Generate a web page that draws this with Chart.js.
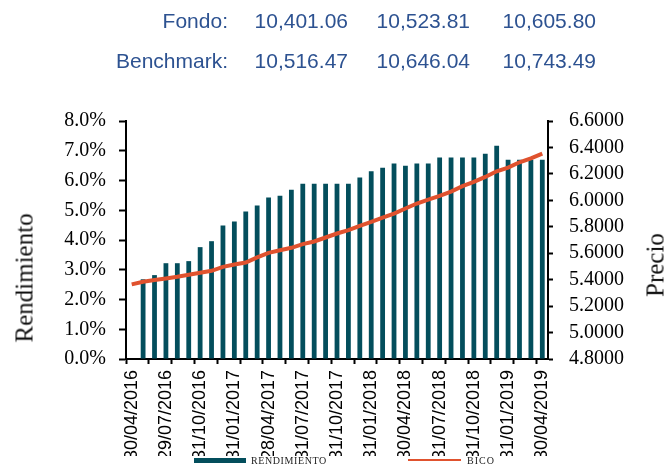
<!DOCTYPE html>
<html lang="es">
<head>
    <meta charset="UTF-8">
    <title>Rendimiento vs Precio</title>
    <script src="https://cdn.jsdelivr.net/npm/chart.js"></script>
    <style>
        body {
            margin: 0;
            padding: 0;
            background: #fff;
        }
        .wrap {
            position: relative;
            width: 665px;
            height: 470px;
            overflow: hidden;
        }
        /* the date labels are cut off at the bottom, as in the original export */
        .clip {
            position: absolute;
            left: 0;
            top: 0;
            width: 665px;
            height: 456px;
            overflow: hidden;
        }
        .head {
            position: absolute;
            font-family: 'Liberation Sans', Arial, sans-serif;
            font-size: 21px;
            line-height: 21px;
            color: #2d5291;
            text-align: right;
            white-space: nowrap;
        }
        .axis-title {
            position: absolute;
            font-family: 'Liberation Serif', 'Times New Roman', serif;
            font-size: 25px;
            line-height: 25px;
            color: #111;
            white-space: nowrap;
            transform: translate(-50%, -50%) rotate(-90deg);
        }
        .legend-box {
            position: absolute;
        }
        .legend-text {
            position: absolute;
            font-family: 'Liberation Serif', 'Times New Roman', serif;
            font-size: 10px;
            line-height: 10px;
            color: #222;
            white-space: nowrap;
        }
    </style>
</head>
<body>
<div class="wrap" id="wrap">
    <div class="clip"><canvas id="chart" width="665" height="470"></canvas></div>
    <div class="axis-title" style="left:24px; top:278px;">Rendimiento</div>
    <div class="axis-title" style="left:655px; top:265px;">Precio</div>

    <div class="legend-box" style="left:194px; top:458px; width:52px; height:5px; background:#034e5c;"></div>
    <div class="legend-text" style="left:251px; top:456px; letter-spacing:0.6px;">RENDIMIENTO</div>
    <div class="legend-box" style="left:408px; top:459px; width:53px; height:2px; background:#e0522e;"></div>
    <div class="legend-text" style="left:467px; top:456px; letter-spacing:1px;">BICO</div>
</div>

<script>
    // header figures
    const headRows = ['Fondo:', 'Benchmark:'];
    const fondoVals = ['10,401.06', '10,523.81', '10,605.80'];
    const benchVals = ['10,516.47', '10,646.04', '10,743.49'];

    // monthly closing dates
    const fechas = [
        '30/04/2016', '31/05/2016', '30/06/2016', '29/07/2016', '31/08/2016', '30/09/2016',
        '31/10/2016', '30/11/2016', '30/12/2016', '31/01/2017', '28/02/2017', '31/03/2017',
        '28/04/2017', '31/05/2017', '30/06/2017', '31/07/2017', '31/08/2017', '29/09/2017',
        '31/10/2017', '30/11/2017', '29/12/2017', '31/01/2018', '28/02/2018', '29/03/2018',
        '30/04/2018', '31/05/2018', '29/06/2018', '31/07/2018', '31/08/2018', '28/09/2018',
        '31/10/2018', '30/11/2018', '31/12/2018', '31/01/2019', '28/02/2019', '29/03/2019',
        '30/04/2019'
    ];

    // rendimiento (%) - bars, left axis
    const rendimiento = [
        null, 2.68, 2.82, 3.22, 3.22, 3.29, 3.76, 3.96, 4.49, 4.62,
        4.96, 5.16, 5.43, 5.49, 5.69, 5.89, 5.89, 5.89, 5.89, 5.89,
        6.10, 6.31, 6.43, 6.57, 6.50, 6.57, 6.57, 6.77, 6.77, 6.77,
        6.77, 6.90, 7.17, 6.70, 6.70, 6.70, 6.70
    ];

    // precio - line, right axis
    const precio = [
        5.364, 5.384, 5.397, 5.409, 5.422, 5.437, 5.452, 5.467, 5.497, 5.515,
        5.530, 5.568, 5.603, 5.623, 5.641, 5.669, 5.689, 5.719, 5.749, 5.774,
        5.807, 5.837, 5.870, 5.900, 5.938, 5.976, 6.006, 6.033, 6.066, 6.107,
        6.139, 6.177, 6.220, 6.248, 6.288, 6.318, 6.353
    ];

    // header table as positioned text
    const wrap = document.getElementById('wrap');
    const colRight = [228, 348, 470, 596];
    const rowTop = [10, 50];
    [[headRows[0], ...fondoVals], [headRows[1], ...benchVals]].forEach((row, r) => {
        row.forEach((txt, c) => {
            const d = document.createElement('div');
            d.className = 'head';
            d.textContent = txt;
            d.style.right = (665 - colRight[c]) + 'px';
            d.style.top = rowTop[r] + 'px';
            wrap.appendChild(d);
        });
    });

    Chart.defaults.font.family = "'Liberation Serif', 'Times New Roman', serif";
    Chart.defaults.color = '#000';

    new Chart(document.getElementById('chart'), {
        type: 'bar',
        data: {
            labels: fechas,
            datasets: [
                {
                    type: 'line',
                    label: 'BICO',
                    data: precio,
                    yAxisID: 'y1',
                    borderColor: '#e0522e',
                    backgroundColor: '#e0522e',
                    borderWidth: 4,
                    pointRadius: 0,
                    tension: 0,
                    order: 0
                },
                {
                    label: 'RENDIMIENTO',
                    data: rendimiento,
                    yAxisID: 'y',
                    backgroundColor: '#034e5c',
                    barPercentage: 0.42,
                    categoryPercentage: 1.0,
                    order: 1
                }
            ]
        },
        options: {
            responsive: false,
            animation: false,
            devicePixelRatio: 1,
            layout: { padding: { top: 121, bottom: 11, left: 0, right: 0 } },
            plugins: {
                legend: { display: false },
                tooltip: { enabled: false }
            },
            scales: {
                x: {
                    offset: true,
                    grid: {
                        offset: true,
                        drawOnChartArea: false,
                        tickLength: 5,
                        tickWidth: 2,
                        tickColor: ctx => (ctx.index % 2 === 0 ? '#000' : 'rgba(0,0,0,0)')
                    },
                    border: { color: '#000', width: 2 },
                    ticks: {
                        autoSkip: false,
                        minRotation: 90,
                        maxRotation: 90,
                        padding: 6,
                        font: { family: "'Liberation Sans', Arial, sans-serif", size: 18 },
                        callback: function (v, i) {
                            return i % 3 === 0 ? this.getLabelForValue(v) : '';
                        }
                    },
                    afterFit: s => { s.height = 100; }
                },
                y: {
                    position: 'left',
                    min: 0,
                    max: 8,
                    grid: {
                        drawOnChartArea: false,
                        tickLength: 7,
                        tickWidth: 2,
                        tickColor: '#000'
                    },
                    border: { color: '#000', width: 2 },
                    ticks: {
                        autoSkip: false,
                        stepSize: 1,
                        padding: 13,
                        font: { size: 20 },
                        callback: v => v.toFixed(1) + '%'
                    },
                    afterFit: s => { s.width = 126; }
                },
                y1: {
                    position: 'right',
                    min: 4.8,
                    max: 6.6,
                    grid: {
                        drawOnChartArea: false,
                        tickLength: 5,
                        tickWidth: 2,
                        tickColor: '#000'
                    },
                    border: { color: '#000', width: 2 },
                    ticks: {
                        autoSkip: false,
                        stepSize: 0.2,
                        padding: 16,
                        font: { size: 20 },
                        callback: v => v.toFixed(4)
                    },
                    afterFit: s => { s.width = 117; }
                }
            }
        }
    });
</script>
</body>
</html>
